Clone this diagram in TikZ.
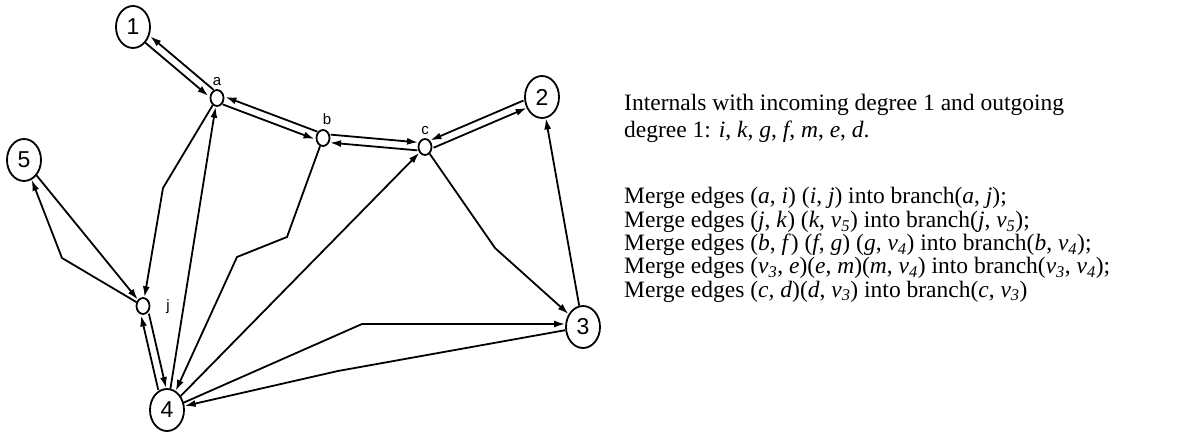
\documentclass[tikz,border=0pt]{standalone}
\usepackage{fontspec}
\setmainfont{Liberation Serif}
\newfontfamily\lsans{Liberation Sans}
\usetikzlibrary{arrows.meta,shapes.geometric}
\begin{document}
\begin{tikzpicture}[x=1pt,y=-1pt,
  big/.style={ellipse, draw, line width=1.8pt, minimum width=34pt, minimum height=42pt, inner sep=0pt, font=\lsans\fontsize{23}{23}\selectfont},
  small/.style={ellipse, draw, line width=1.8pt, minimum width=13pt, minimum height=16pt, inner sep=0pt},
  lbl/.style={inner sep=0pt, font=\lsans\fontsize{15}{15}\selectfont},
  arr/.style={line width=1.8pt, -{Latex[length=11pt,width=7pt]}},
  txt/.style={anchor=base west, inner sep=0pt, text height=16pt, text depth=5pt, font=\fontsize{23.5}{23.5}\selectfont}]
\useasboundingbox (0,0) rectangle (1180,435);

% main nodes
\node[big] (n1) at (133,27) {1};
\node[big] (n2) at (542,97) {2};
\node[big] (n3) at (583,327) {3};
\node[big] (n4) at (167,410) {4};
\node[big] (n5) at (24,160) {5};
% internal nodes
\node[small] (a) at (217,98) {};
\node[small] (b) at (323,138) {};
\node[small] (c) at (425,147) {};
\node[small] (j) at (143,306) {};
\node[lbl] (la) at (217,82) {a};
\node[lbl] (lb) at (327,119) {b};
\node[lbl] (lc) at (425,131) {c};
\node[lbl] (lj) at (168,307) {j};

% parallel edges
\draw[arr, transform canvas={shift={(2.6,-3.1)}}] (a) -- (n1);
\draw[arr, transform canvas={shift={(-2.6,3.1)}}] (n1) -- (a);
\draw[arr, transform canvas={shift={(1.4,-3.7)}}] (b) -- (a);
\draw[arr, transform canvas={shift={(-1.4,3.7)}}] (a) -- (b);
\draw[arr, transform canvas={shift={(0.35,-4)}}] (b) -- (c);
\draw[arr, transform canvas={shift={(-0.35,4)}}] (c) -- (b);
\draw[arr, transform canvas={shift={(-1.6,-3.7)}}] (n2) -- (c);
\draw[arr, transform canvas={shift={(1.6,3.7)}}] (c) -- (n2);
\draw[arr, transform canvas={shift={(-3.9,0.9)}}] (n4) -- (j);
\draw[arr, transform canvas={shift={(3.9,-0.9)}}] (j) -- (n4);

% single edges
\draw[arr] (n3) -- (n2);
\draw[arr] (c) -- (495,248) -- (n3);
\draw[arr] (n4) -- (c);
\draw[arr] (b) -- (287,237) -- (237,257) -- (n4);
\draw[arr] (n4) -- (a);
\draw[arr] (a) -- (163,188) -- (j);
\draw[arr] (n5) -- (j);
\draw[arr] (j) -- (62,258) -- (n5);
\draw[arr] (n4) -- (362,324) -- (n3.west |- 0,324);
\draw[arr] (n3) -- (338,371) -- (n4);

% text
\node[txt] (t1) at (624,111) {Internals with incoming degree 1 and outgoing};
\node[txt] (t2) at (624,138) {degree 1: \textit{i}, \textit{k}, \textit{g}, \textit{f}, \textit{m}, \textit{e}, \textit{d}.};
\node[txt] (t3) at (624,204) {Merge edges (\textit{a}, \textit{i}) (\textit{i}, \textit{j}) into branch(\textit{a}, \textit{j});};
\node[txt] (t4) at (624,227.3) {Merge edges (\textit{j}, \textit{k}) (\textit{k}, \textit{v\textsubscript{5}}) into branch(\textit{j}, \textit{v\textsubscript{5}});};
\node[txt] (t5) at (624,250.6) {Merge edges (\textit{b}, \textit{f}) (\textit{f}, \textit{g}) (\textit{g}, \textit{v\textsubscript{4}}) into branch(\textit{b}, \textit{v\textsubscript{4}});};
\node[txt] (t6) at (624,273.9) {Merge edges (\textit{v\textsubscript{3}}, \textit{e})(\textit{e}, \textit{m})(\textit{m}, \textit{v\textsubscript{4}}) into branch(\textit{v\textsubscript{3}}, \textit{v\textsubscript{4}});};
\node[txt] (t7) at (624,297.2) {Merge edges (\textit{c, d})(\textit{d}, \textit{v\textsubscript{3}}) into branch(\textit{c}, \textit{v\textsubscript{3}})};
\end{tikzpicture}
\end{document}
